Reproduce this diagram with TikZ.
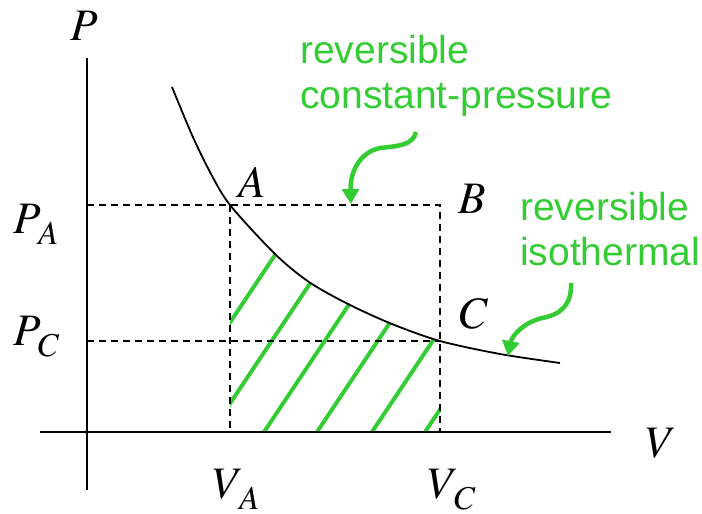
\documentclass[tikz,border=0pt]{standalone}
\usepackage{mathptmx}
\usepackage{fontspec}
\newfontfamily\notefont{Liberation Sans}
\definecolor{pvgreen}{RGB}{51,204,51}
\usetikzlibrary{arrows.meta}
\newcommand\lowsub[2]{#1_{\kern3pt\raisebox{-5pt}{$\scriptstyle #2$}}}

\begin{document}
\begin{tikzpicture}[x=1pt,y=-1pt,
  axis/.style={line width=2.4pt},
  isotherm/.style={line width=1.8pt},
  guide/.style={line width=1.8pt,dash pattern=on 7pt off 5pt},
  hatch/.style={pvgreen,line width=4pt},
  callout/.style={pvgreen,line width=4.5pt,-{Triangle[length=15pt,width=17pt]}},
  lbl/.style={inner sep=0pt,font=\fontsize{45}{54}\selectfont},
  note/.style={inner sep=0pt,text=pvgreen,align=left,
    font=\notefont\fontsize{39}{45}\selectfont}
]
  \useasboundingbox (0,0) rectangle (702,514);
  % axes
  \draw[axis] (87,58) -- (87,490);
  \draw[axis] (40,432) -- (611,432);
  % states
  \coordinate (A) at (230,205);
  \coordinate (B) at (440,205);
  \coordinate (C) at (440,341);
  \coordinate (PA) at (87,205);
  \coordinate (PC) at (87,341);
  \coordinate (VA) at (230,432);
  \coordinate (VC) at (440,432);

  % work area
  \begin{scope}
    \clip (230,431) -- plot[smooth] coordinates {(230,205) (275,254) (309,282) (348,304) (392,324) (440,341)}
      -- (441,341) -- (441,431) -- cycle;
    \foreach \x in {157,211,264,317,372,425}
      \draw[hatch] (\x,432) -- ++(160,-240);
  \end{scope}

  \draw[guide] (PA) -- (B) -- (VC);
  \draw[guide] (A) -- (VA);
  \draw[guide] (PC) -- (C);
  \draw[isotherm] plot[smooth] coordinates {(172,87) (192,135) (210,172) (230,205) (275,254) (309,282)
    (348,304) (392,324) (440,341) (500,354) (560,363)};

  \node[lbl,anchor=base] (plbl) at (84,40) {$P$};
  \node[lbl,anchor=base] (vlbl) at (661,457) {$V$};
  \node[lbl,anchor=base] (albl) at (252,197) {$A$};
  \node[lbl,anchor=base] (blbl) at (472,213) {$B$};
  \node[lbl,anchor=base] (clbl) at (474,328) {$C$};
  \node[lbl,anchor=base west] (pa) at (13,233) {$\lowsub{P}{A}$};
  \node[lbl,anchor=base west] (pc) at (13,345) {$\lowsub{P}{C}$};
  \node[lbl,anchor=base west] (va) at (213,498) {$\lowsub{V}{A}$};
  \node[lbl,anchor=base west] (vc) at (428,498) {$\lowsub{V}{C}$};

  % process labels
  \node[note,anchor=base west] (isobar) at (300,108) {reversible\\constant-pressure};
  \node[note,anchor=base west] (isotherm) at (520,265) {reversible\\isothermal};
  \coordinate (s1) at (416,132);
  \coordinate (t1) at (351,204);
  \coordinate (s2) at (571,283);
  \coordinate (t2) at (508,356);
  \draw[callout] (s1) .. controls (413,146) and (396,146) .. (380,148)
    .. controls (360,152) and (350,172) .. (t1);
  \draw[callout] (s2) .. controls (572,305) and (560,315) .. (542,318)
    .. controls (525,322) and (512,335) .. (t2);
\end{tikzpicture}
\end{document}
